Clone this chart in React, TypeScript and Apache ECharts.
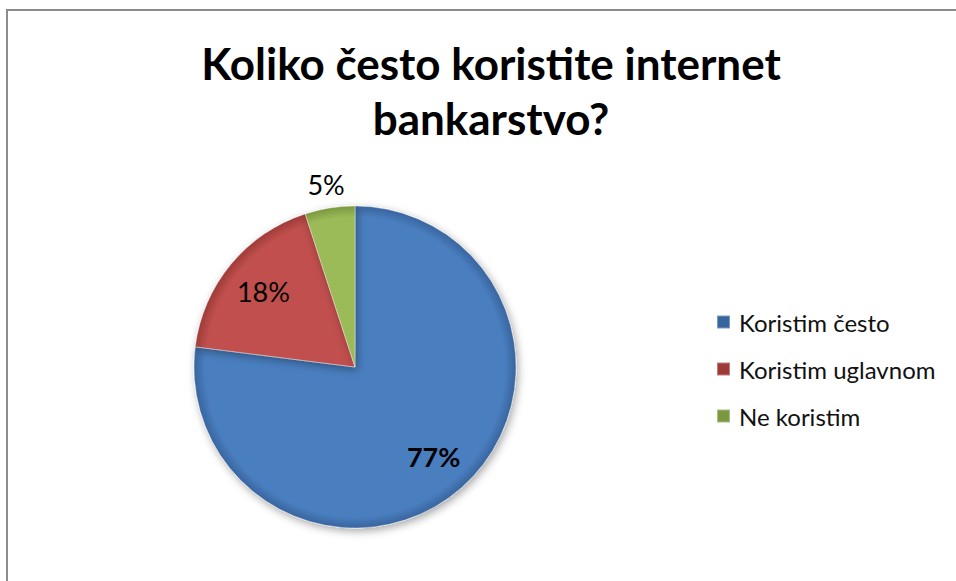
import React, { useEffect, useRef } from "react";
import * as echarts from "echarts";

const titleText = "Koliko često koristite internet\nbankarstvo?";
const categories = ["Koristim često", "Koristim uglavnom", "Ne koristim"];
const values = [77, 18, 5];
const colors = ["#4a7ebf", "#c0504d", "#9bbb59"];
const labelInner = [true, true, false];

const FONT = "Lato, 'Open Sans', sans-serif";

export default function App() {
  const ref = useRef<HTMLDivElement>(null);
  useEffect(() => {
    document.body.style.margin = "0";
    const chart = echarts.init(ref.current!, null, { renderer: "svg" });
    const cx = 355;
    const cy = 367;
    const R = 161;
    const shade = (c: string) => ({
      type: "radial",
      x: cx,
      y: cy,
      r: R,
      global: true,
      colorStops: [
        { offset: 0, color: c },
        { offset: 0.93, color: c },
        { offset: 1, color: echarts.color.modifyHSL(c, undefined, undefined, 0.42) },
      ],
    });
    const mainData = categories.map((name, i) => ({
      name,
      value: values[i],
      itemStyle: { color: shade(colors[i]) },
    }));
    const labelData = (inner: boolean) =>
      categories.map((name, i) => ({
        name,
        value: values[i],
        label: {
          show: labelInner[i] === inner,
          fontWeight: i === 0 ? "bold" : "normal",
        },
      }));
    const overlayBase = {
      type: "pie",
      center: [cx, cy],
      startAngle: 90,
      clockwise: true,
      silent: true,
      legendHoverLink: false,
      itemStyle: { color: "rgba(0,0,0,0)", borderWidth: 0 },
      labelLine: { show: false },
      z: 5,
    };
    chart.setOption({
      animation: false,
      title: {
        text: titleText,
        left: 486,
        top: 30,
        textAlign: "center",
        textStyle: {
          fontFamily: FONT,
          fontSize: 44,
          fontWeight: "bold",
          color: "#000",
          lineHeight: 55,
        },
      },
      legend: {
        orient: "vertical",
        left: 716,
        top: 310,
        padding: 0,
        itemWidth: 13,
        itemHeight: 13,
        itemGap: 23,
        icon: "rect",
        data: categories,
        textStyle: {
          fontFamily: FONT,
          fontSize: 24,
          color: "#111",
          lineHeight: 24,
          padding: [0, 0, 0, 4],
        },
      },
      graphic: [
        {
          type: "polyline",
          shape: { points: [[7, 581], [7, 10], [956, 10]] },
          style: { stroke: "#8c8c8c", lineWidth: 2, fill: "none" },
          silent: true,
        },
      ],
      series: [
        {
          type: "pie",
          name: "main",
          center: [cx, cy],
          radius: [0, R],
          startAngle: 90,
          clockwise: true,
          label: { show: false },
          labelLine: { show: false },
          itemStyle: {
            borderColor: "rgba(255,255,255,0.35)",
            borderWidth: 1,
            shadowBlur: 8,
            shadowOffsetX: 2,
            shadowOffsetY: 3,
            shadowColor: "rgba(0,0,0,0.35)",
          },
          data: mainData,
        },
        {
          ...overlayBase,
          name: "labelsInner",
          radius: [R * 0.44, R],
          label: {
            show: true,
            position: "inside",
            formatter: "{d}%",
            fontFamily: FONT,
            fontSize: 27,
            color: "#000",
          },
          data: labelData(true),
        },
        {
          ...overlayBase,
          name: "labelsOuter",
          radius: [R, R * 1.26],
          label: {
            show: true,
            position: "inside",
            formatter: "{d}%",
            fontFamily: FONT,
            fontSize: 27,
            color: "#000",
          },
          data: labelData(false),
        },
      ],
    });
    return () => chart.dispose();
  }, []);
  return <div ref={ref} style={{ width: 956, height: 581 }} />;
}
